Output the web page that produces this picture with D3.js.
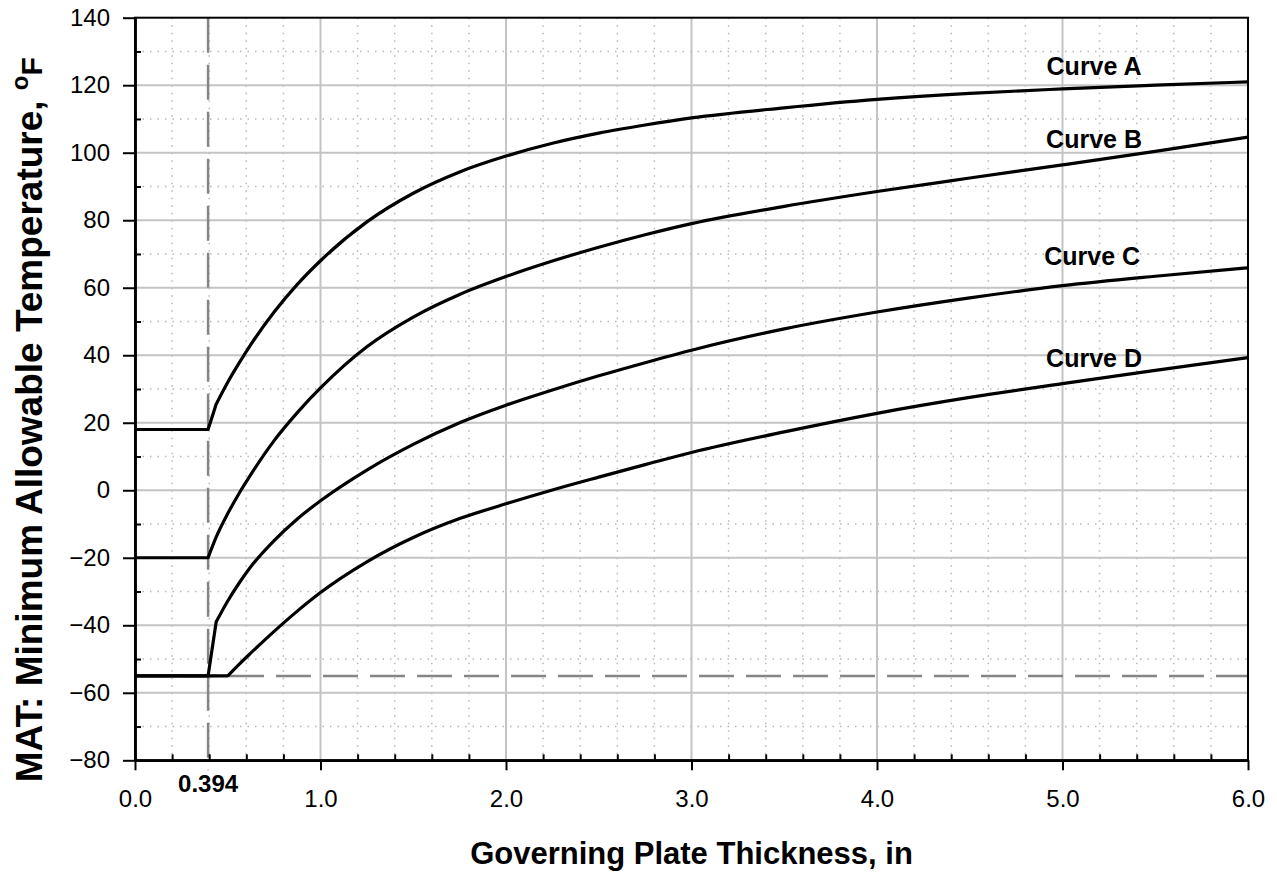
<!DOCTYPE html>
<html>
<head>
<meta charset="utf-8">
<script src="https://cdn.jsdelivr.net/npm/d3@7"></script>
<style>
  body { margin: 0; background: #fff; }
  text { font-family: "Liberation Sans", Arial, sans-serif; }
</style>
</head>
<body>
<div id="vis"></div>
<script>
// governing plate thickness (in) and MAT for each curve (deg F)
var thickness = [0, 0.394, 0.4375, 0.5, 0.5625, 0.625, 0.75, 0.875, 1.0, 1.25, 1.5, 1.75,
    2.0, 2.25, 2.5, 2.75, 3.0, 3.5, 4.0, 4.5, 5.0, 5.5, 6.0];
var curveA = [18, 18, 25.5, 32, 37.8, 43.2, 52.8, 61, 68, 79.5, 88, 94.3,
    99, 102.8, 105.8, 108.2, 110.3, 113.3, 115.8, 117.6, 118.9, 120.0, 121.0];
var curveB = [-20, -20, -13.9, -6.9, -0.8, 4.7, 14.7, 23, 30.3, 42.5, 51.3, 58,
    63.3, 67.9, 72.0, 75.7, 79.0, 84.1, 88.5, 92.5, 96.4, 100.4, 104.6];
var curveC = [-55, -55, -39, -32.8, -27.4, -22.6, -14.9, -8.5, -3.1, 6, 13.6, 20,
    25.2, 29.7, 33.9, 37.8, 41.5, 47.8, 52.8, 57.0, 60.6, 63.4, 65.9];
var curveD = [-55, -55, -55, -55, -51.5, -48.2, -41.8, -35.8, -30.3, -21.2, -14, -8.4,
    -4, 0.1, 3.9, 7.6, 11.2, 17.3, 22.8, 27.5, 31.6, 35.5, 39.3];

var curveNames = ['Curve A', 'Curve B', 'Curve C', 'Curve D'];
// thickness where each curve's straight start (flat + first knee) ends
var kneeT = [0.4375, 0.394, 0.4375, 0.5];
var labelT = [5.17, 5.17, 5.16, 5.17];
var labelV = [123, 101.4, 66.7, 36.5];

var xMajor = [0, 1, 2, 3, 4, 5, 6];
var xMinor = [0.2, 0.4, 0.6, 0.8, 1.2, 1.4, 1.6, 1.8, 2.2, 2.4, 2.6, 2.8, 3.2, 3.4, 3.6, 3.8,
    4.2, 4.4, 4.6, 4.8, 5.2, 5.4, 5.6, 5.8];
var yMajor = [-80, -60, -40, -20, 0, 20, 40, 60, 80, 100, 120, 140];
var yMinor = [-70, -50, -30, -10, 10, 30, 50, 70, 90, 110, 130];

var tMin = 0.394;
var mMin = -55;

var W = 1277, H = 873;
var margin = { top: 17.7, left: 135, right: 29, bottom: 112.7 };
var width = W - margin.left - margin.right;
var height = H - margin.top - margin.bottom;

var svg = d3.select('#vis')
    .append('svg')
    .attr('width', W)
    .attr('height', H)
    .append('g')
    .attr('transform', 'translate(' + margin.left + ',' + margin.top + ')');

var x = d3.scaleLinear().domain([0, 6]).range([0, width]);
var y = d3.scaleLinear().domain([-80, 140]).range([height, 0]);

// grid
svg.append('g').selectAll('line')
    .data(xMinor).enter().append('line')
    .attr('x1', d => x(d)).attr('x2', d => x(d))
    .attr('y1', 0).attr('y2', height)
    .attr('stroke', '#b8b8b8').attr('stroke-width', 1.5).attr('stroke-dasharray', '1.5,6');
svg.append('g').selectAll('line')
    .data(yMinor).enter().append('line')
    .attr('x1', 0).attr('x2', width)
    .attr('y1', d => y(d)).attr('y2', d => y(d))
    .attr('stroke', '#b8b8b8').attr('stroke-width', 1.5).attr('stroke-dasharray', '1.5,6');
svg.append('g').selectAll('line')
    .data(xMajor.slice(1, -1)).enter().append('line')
    .attr('x1', d => x(d)).attr('x2', d => x(d))
    .attr('y1', 0).attr('y2', height)
    .attr('stroke', '#c4c4c4').attr('stroke-width', 2);
svg.append('g').selectAll('line')
    .data(yMajor.slice(1, -1)).enter().append('line')
    .attr('x1', 0).attr('x2', width)
    .attr('y1', d => y(d)).attr('y2', d => y(d))
    .attr('stroke', '#c4c4c4').attr('stroke-width', 2);

// reference dashed lines
svg.append('line')
    .attr('x1', x(0)).attr('x2', x(6))
    .attr('y1', y(mMin)).attr('y2', y(mMin))
    .attr('stroke', '#858585').attr('stroke-width', 2.5).attr('stroke-dasharray', '35,12');
svg.append('line')
    .attr('x1', x(tMin)).attr('x2', x(tMin))
    .attr('y1', y(140)).attr('y2', height + 10)
    .attr('stroke', '#858585').attr('stroke-width', 2.5).attr('stroke-dasharray', '35,12');

// frame
svg.append('rect')
    .attr('x', 0).attr('y', 0).attr('width', width).attr('height', height)
    .attr('fill', 'none').attr('stroke', '#000').attr('stroke-width', 2);

// axes
var xAxis = d3.axisBottom(x).tickValues(xMajor).tickFormat(d3.format('.1f'))
    .tickSizeInner(10).tickSizeOuter(0).tickPadding(20);
var xAxisMinor = d3.axisBottom(x).tickValues(xMinor).tickFormat('')
    .tickSizeInner(-6).tickSizeOuter(0);
var yAxis = d3.axisLeft(y).tickValues(yMajor).tickFormat(d3.format('d'))
    .tickSizeInner(12).tickSizeOuter(0).tickPadding(13);
var yAxisMinor = d3.axisLeft(y).tickValues(yMinor).tickFormat('')
    .tickSizeInner(-6).tickSizeOuter(0);

function styleAxis(g) {
    g.select('.domain').attr('stroke', '#000').attr('stroke-width', 2.5);
    g.selectAll('.tick line').attr('stroke', '#000').attr('stroke-width', 2);
    g.selectAll('.tick text').attr('font-size', 24).attr('fill', '#000')
        .style('font-family', '"Liberation Sans", Arial, sans-serif');
}

svg.append('g').attr('transform', 'translate(0,' + height + ')').call(xAxisMinor).call(styleAxis);
svg.append('g').attr('transform', 'translate(0,' + height + ')').call(xAxis).call(styleAxis);
svg.append('g').call(yAxisMinor).call(styleAxis);
svg.append('g').call(yAxis).call(styleAxis);

// curves: straight start up to the knee, smooth after it
var series = [curveA, curveB, curveC, curveD];
var straight = d3.line().x(d => x(d[0])).y(d => y(d[1]));
var smooth = d3.line().x(d => x(d[0])).y(d => y(d[1])).curve(d3.curveMonotoneX);

var curves = svg.append('g');
series.forEach(function (s, j) {
    var pts = thickness.map((t, i) => [t, s[i]]);
    var k = thickness.indexOf(kneeT[j]);
    curves.append('path')
        .attr('d', straight(pts.slice(0, k + 1)) + smooth(pts.slice(k)).replace(/^M/, 'L'))
        .attr('fill', 'none')
        .attr('stroke', '#000')
        .attr('stroke-width', 3.2)
        .attr('stroke-linejoin', 'round');
});

svg.append('g').selectAll('text')
    .data(curveNames).enter().append('text')
    .attr('x', (d, i) => x(labelT[i]))
    .attr('y', (d, i) => y(labelV[i]))
    .attr('text-anchor', 'middle')
    .attr('font-size', 25)
    .attr('font-weight', 'bold')
    .text(d => d);

// 0.394 marker label
svg.append('text')
    .attr('x', x(tMin))
    .attr('y', height + 32)
    .attr('text-anchor', 'middle')
    .attr('font-size', 24)
    .attr('font-weight', 'bold')
    .text(tMin.toFixed(3));

// axis titles
svg.append('text')
    .attr('x', width / 2)
    .attr('y', height + 104)
    .attr('text-anchor', 'middle')
    .attr('font-size', 31)
    .attr('font-weight', 'bold')
    .text('Governing Plate Thickness, in');

var yt = svg.append('text')
    .attr('transform', 'translate(' + (-93) + ',' + 402 + ') rotate(-90)')
    .attr('text-anchor', 'middle')
    .attr('font-size', 37)
    .attr('font-weight', 'bold');
yt.append('tspan').text('MAT: Minimum Allowable Temperature, ');
yt.append('tspan').attr('font-size', 24).attr('dy', -14).text('o');
yt.append('tspan').attr('font-size', 30).attr('dy', 14).text('F');
</script>
</body>
</html>
